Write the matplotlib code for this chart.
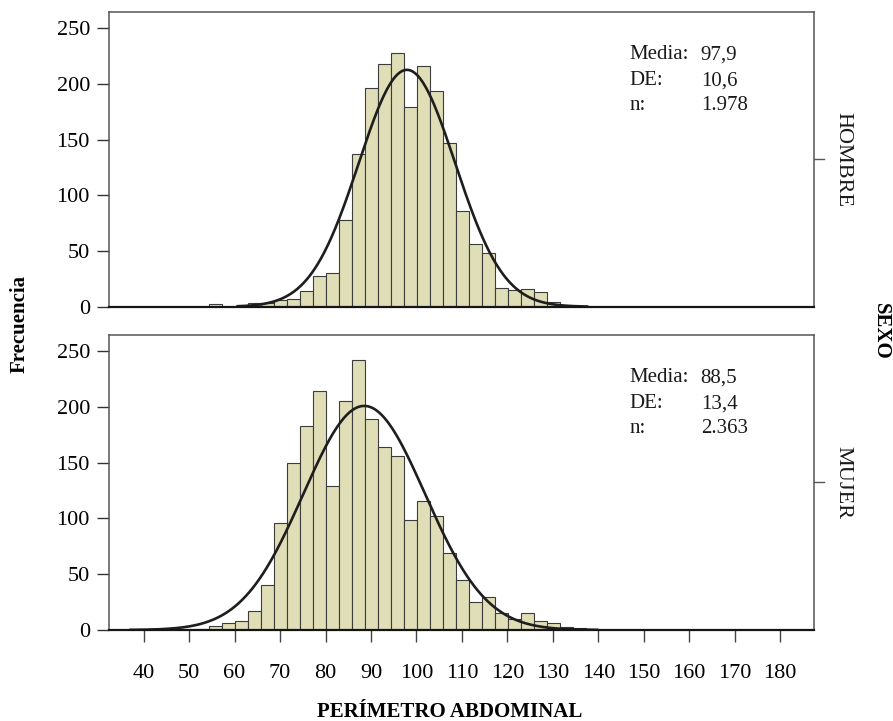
import numpy as np
import matplotlib
matplotlib.use("Agg")
import matplotlib.pyplot as plt

plt.rcParams['font.family'] = ['Liberation Serif', 'DejaVu Serif']

# histogram bins (cm) shared by both panels
bin_start = 51.57
bin_width = 2.856

# counts per bin, men
hombre_counts = [0, 2, 0, 0, 3, 3, 6, 7, 14, 28, 30, 78, 137, 196, 218, 228,
                 179, 216, 194, 147, 86, 56, 48, 17, 15, 16, 13, 4]
# counts per bin, women
mujer_counts = [1, 4, 6, 8, 17, 40, 96, 150, 183, 214, 129, 205, 242, 189, 164,
                156, 99, 116, 102, 69, 45, 25, 30, 15, 10, 15, 8, 6, 3, 2, 1]

panels = ["HOMBRE", "MUJER"]
medias = [97.9, 88.5]
des = [10.6, 13.4]
ns = [1978, 2363]
counts = [hombre_counts, mujer_counts]
curve_ranges = [(60.4, 137.8), (36.8, 140.0)]

media_txt = ["97,9", "88,5"]
de_txt = ["10,6", "13,4"]
n_txt = ["1.978", "2.363"]

xticks = list(range(40, 190, 10))
yticks = [0, 50, 100, 150, 200, 250]

bar_color = "#dfdeb7"
edge_color = "#3c3c3c"
spine_color = "#555555"

fig = plt.figure(figsize=(8.93, 7.21), dpi=100)
axes = [fig.add_axes([0.1217, 0.5746, 0.7902, 0.4087]),
        fig.add_axes([0.1217, 0.1262, 0.7902, 0.4092])]

for i, ax in enumerate(axes):
    c = np.array(counts[i], dtype=float)
    lefts = bin_start + bin_width * np.arange(len(c))
    keep = c > 0
    ax.bar(lefts[keep], c[keep], width=bin_width, align="edge",
           color=bar_color, edgecolor=edge_color, linewidth=0.8, zorder=2)

    # normal curve scaled to the histogram
    x = np.linspace(curve_ranges[i][0], curve_ranges[i][1], 400)
    pdf = np.exp(-0.5 * ((x - medias[i]) / des[i]) ** 2) / (des[i] * np.sqrt(2 * np.pi))
    ax.plot(x, ns[i] * bin_width * pdf, color="#1e1e1e", lw=1.9, zorder=3,
            solid_capstyle="butt")

    ax.set_xlim(32.3, 187.5)
    ax.set_ylim(0, 264.5)
    ax.set_yticks(yticks)
    ax.tick_params(axis="y", direction="out", length=8.5, width=1.0,
                   color="#333333", pad=5, labelsize=16)

    for side in ["left", "right", "top"]:
        ax.spines[side].set_color(spine_color)
        ax.spines[side].set_linewidth(1.1)
    ax.spines["bottom"].set_color("#151515")
    ax.spines["bottom"].set_linewidth(1.6)
    ax.spines["bottom"].set_zorder(4)

    # panel statistics
    ys = [0.855, 0.767, 0.683]
    for y, lab, val in zip(ys, ["Media:", "DE:", "n:"],
                           [media_txt[i], de_txt[i], n_txt[i]]):
        ax.text(0.738, y, lab, transform=ax.transAxes, fontsize=15,
                va="center", ha="left", color="#1a1a1a")
        ax.text(0.839, y, val, transform=ax.transAxes, fontsize=15,
                va="center", ha="left", color="#1a1a1a")

    # panel strip label on the right
    ax.plot([1.0, 1.013], [0.5, 0.5], transform=ax.transAxes, color=spine_color,
            lw=1.0, clip_on=False)
    ax.text(1.041, 0.5, panels[i], transform=ax.transAxes, rotation=-90,
            fontsize=16, va="center", ha="center", color="#1a1a1a")

axes[0].set_xticks([])
axes[1].set_xticks(xticks)
axes[1].set_xticklabels([str(t) for t in xticks])
axes[1].tick_params(axis="x", direction="out", length=8.5, width=1.0,
                    color="#444444", pad=16, labelsize=16)

fig.text(0.022, 0.55, "Frecuencia", rotation=90, fontsize=15, fontweight="bold",
         va="center", ha="center")
fig.text(0.986, 0.54, "SEXO", rotation=-90, fontsize=15, fontweight="bold",
         va="center", ha="center")
fig.text(0.504, 0.0125, "PERÍMETRO ABDOMINAL", fontsize=15, fontweight="bold",
         va="center", ha="center")

fig.savefig("out.png", dpi=100)
